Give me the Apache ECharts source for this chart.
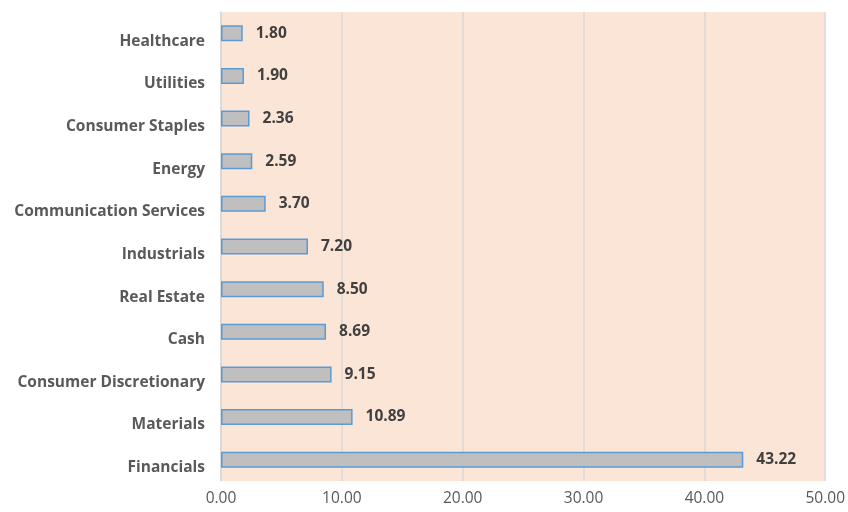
<!DOCTYPE html>
<html><head><meta charset="utf-8">
<script src="https://cdn.jsdelivr.net/npm/echarts@6/dist/echarts.min.js"></script>
<style>html,body{margin:0;padding:0;background:#fff}#c{width:848px;height:512px}</style>
</head><body><div id="c"></div>
<script>
const categories = ["Financials","Materials","Consumer Discretionary","Cash","Real Estate","Industrials","Communication Services","Energy","Consumer Staples","Utilities","Healthcare"];
const values = [43.22,10.89,9.15,8.69,8.50,7.20,3.70,2.59,2.36,1.90,1.80];
const chart = echarts.init(document.getElementById('c'));
chart.setOption({
  animation:false,
  textStyle:{fontFamily:'Open Sans'},
  grid:{left:221,right:22,top:12,bottom:31,show:true,backgroundColor:'#FBE5D6',borderWidth:0},
  xAxis:{type:'value',min:0,max:50,interval:10,
    axisLabel:{formatter:v=>v.toFixed(2),color:'#595959',fontSize:15.5,fontFamily:'Open Sans',margin:10},
    axisLine:{show:false},axisTick:{show:false},
    splitLine:{lineStyle:{color:'#D9D9D9',width:1.5}}},
  yAxis:{type:'category',data:categories,
    axisLabel:{color:'#595959',fontWeight:'bold',fontSize:15.5,fontFamily:'Open Sans',margin:16,verticalAlign:'top',lineHeight:16},
    axisLine:{lineStyle:{color:'#D9D9D9',width:1.5}},axisTick:{show:false}},
  series:[{type:'bar',data:values,barWidth:16,
    itemStyle:{color:'#BFBFBF',borderColor:'#5B9BD5',borderWidth:1.5},
    label:{show:true,position:'right',distance:13,formatter:p=>p.value.toFixed(2),color:'#404040',fontWeight:'bold',fontSize:15.5,fontFamily:'Open Sans'}}]
});
</script></body></html>
